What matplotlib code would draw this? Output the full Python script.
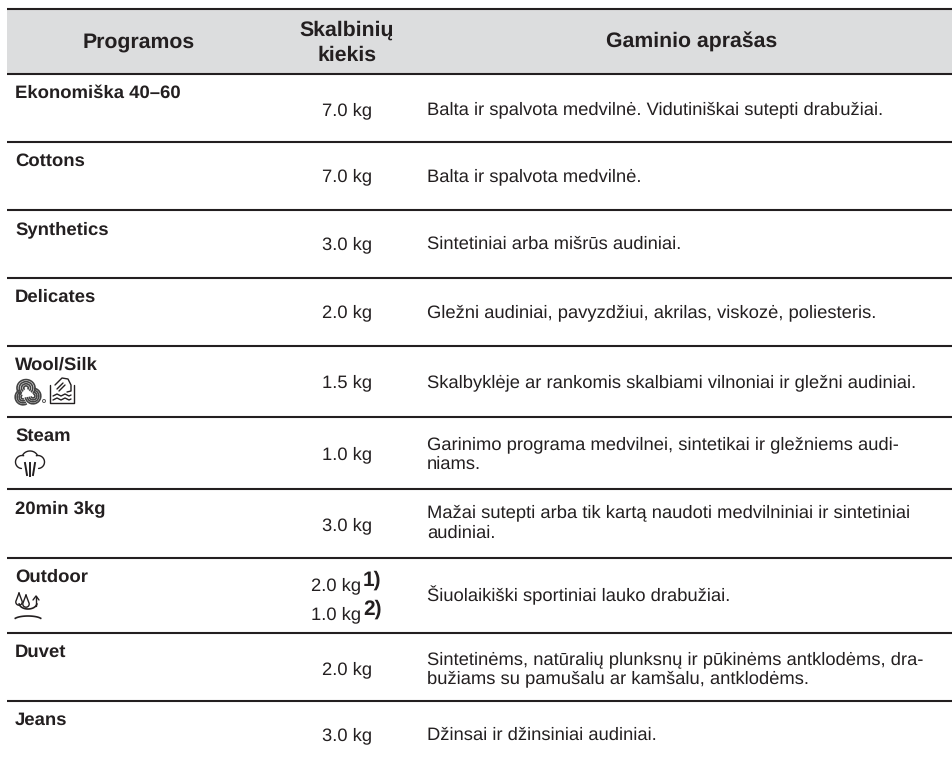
import numpy as np
import matplotlib
matplotlib.use("Agg")
import matplotlib.pyplot as plt
from matplotlib.patches import Arc, Circle, Rectangle

plt.rcParams['font.family'] = ['Liberation Sans', 'DejaVu Sans']
plt.rcParams['text.hinting'] = 'no_hinting'
plt.rcParams['text.hinting_factor'] = 8

headers = ["Programos", "Skalbinių", "kiekis", "Gaminio aprašas"]
programs = ["Ekonomiška 40–60", "Cottons", "Synthetics", "Delicates", "Wool/Silk",
            "Steam", "20min 3kg", "Outdoor", "Duvet", "Jeans"]
loads = ["7.0 kg", "7.0 kg", "3.0 kg", "2.0 kg", "1.5 kg", "1.0 kg", "3.0 kg",
         None, "2.0 kg", "3.0 kg"]
outdoor_loads = ["2.0 kg", "1.0 kg"]
outdoor_marks = ["1)", "2)"]
descriptions = [
    ["Balta ir spalvota medvilnė. Vidutiniškai sutepti drabužiai."],
    ["Balta ir spalvota medvilnė."],
    ["Sintetiniai arba mišrūs audiniai."],
    ["Gležni audiniai, pavyzdžiui, akrilas, viskozė, poliesteris."],
    ["Skalbyklėje ar rankomis skalbiami vilnoniai ir gležni audiniai."],
    ["Garinimo programa medvilnei, sintetikai ir gležniems audi-", "niams."],
    ["Mažai sutepti arba tik kartą naudoti medvilniniai ir sintetiniai", "audiniai."],
    ["Šiuolaikiški sportiniai lauko drabužiai."],
    ["Sintetinėms, natūralių plunksnų ir pūkinėms antklodėms, dra-",
     "bužiams su pamušalu ar kamšalu, antklodėms."],
    ["Džinsai ir džinsiniai audiniai."],
]

INK = "#231f20"
HEAD = "#dcddde"
W, H = 953, 765
L, R = 7, 953
TOP = 9
row_lines = [74, 142, 210, 278, 346, 417, 489, 558, 633, 701]
load_base = [115, 181, 249, 317, 387, 459, 530, 0, 674, 740]
desc_base = [114, 181, 249, 317, 387, 449, 517, 601, 664, 740]
line_gap = [0, 0, 0, 0, 0, 20, 20.5, 0, 19, 0]
FS = 13.2
FB = 13.3
FH = 15.3

fig = plt.figure(figsize=(W / 100, H / 100), dpi=100)
ax = fig.add_axes([0, 0, 1, 1])
ax.set_xlim(0, W)
ax.set_ylim(H, 0)
ax.axis("off")

ax.add_patch(Rectangle((L, TOP), R - L, row_lines[0] - TOP, fc=HEAD, ec="none"))
for y in [TOP] + row_lines:
    ax.plot([L, R], [y, y], color=INK, lw=1.5, solid_capstyle="butt")

hb = dict(ha="center", va="baseline", fontsize=FH, fontweight="bold", color=INK)
ax.text(139, 47.5, headers[0], **hb)
ax.text(347, 36, headers[1], **hb)
ax.text(347, 60.5, headers[2], **hb)
ax.text(691.5, 47.5, headers[3], **hb)

for i, name in enumerate(programs):
    ax.text(15, row_lines[i] + 24, name, ha="left", va="baseline", fontsize=FB,
            fontweight="bold", color=INK)
    if loads[i]:
        ax.text(347, load_base[i], loads[i], ha="center", va="baseline", fontsize=FS, color=INK)
    for k, line in enumerate(descriptions[i]):
        ax.text(427, desc_base[i] + k * line_gap[i], line, ha="left", va="baseline",
                fontsize=FS, color=INK)

# Outdoor loads with bold markers
for txt, mark, y in zip(outdoor_loads, outdoor_marks, [590, 619]):
    ax.text(361.5, y, txt, ha="right", va="baseline", fontsize=FS, color=INK)
    ax.text(363, y - 4, mark, ha="left", va="baseline", fontsize=15, fontweight="bold", color=INK)

# icons ---------------------------------------------------------------
ik = dict(color=INK, lw=1.0, solid_capstyle="round")
# wool mark
for r in (3, 6, 9, 12):
    ax.add_patch(Arc((26, 388), r * 1.5, r * 1.4, theta1=130, theta2=400, color="#444444", lw=1.2))
    ax.add_patch(Arc((33, 396), r * 1.3, r * 1.3, theta1=-80, theta2=170, color="#444444", lw=1.2))
    ax.add_patch(Arc((23, 397), r * 1.3, r * 1.3, theta1=60, theta2=250, color="#444444", lw=1.2))
ax.add_patch(Circle((44, 401), 1.5, fc="none", ec="#555555", lw=0.7))
# hand-wash tub
ax.plot([50, 50, 74, 74], [385, 403, 403, 385], **ik)
ax.plot([55, 62, 68, 71, 71, 67], [385, 378, 379, 385, 391, 392], **ik)
ax.plot([57, 63], [389, 383], **ik)
ax.plot([59, 65], [391, 385], **ik)
ax.plot([53, 57, 61, 65, 69, 71], [396, 394, 396, 394, 396, 395], **ik)
ax.plot([53, 57, 61, 65, 69, 71], [400, 398, 400, 398, 400, 399], **ik)
# steam
t = np.linspace(25, 155, 40)
ax.plot(30 + 8 * np.cos(np.radians(t)), 458 - 7 * np.sin(np.radians(t)), **ik)
t = np.linspace(75, 265, 30)
ax.plot(22 + 6.5 * np.cos(np.radians(t)), 462 - 6.5 * np.sin(np.radians(t)), **ik)
t = np.linspace(105, -85, 30)
ax.plot(38 + 6.5 * np.cos(np.radians(t)), 462 - 6.5 * np.sin(np.radians(t)), **ik)
ax.plot([25, 27], [463, 475], color=INK, lw=1.4)
ax.plot([30, 30], [463, 476], color=INK, lw=1.4)
ax.plot([35, 33], [463, 475], color=INK, lw=1.4)
# outdoor
for dx, dy in [(19, 598), (26, 600)]:
    t = np.linspace(-30, 210, 30)
    xs = dx + 3.2 * np.cos(np.radians(t))
    ys = dy + 4 - 3.2 * np.sin(-np.radians(t))
    ax.plot(np.r_[dx, xs, dx], np.r_[dy - 5, ys, dy - 5], **ik)
t = np.linspace(190, 350, 30)
ax.plot(28 + 9 * np.cos(np.radians(t)), 603 - 6 * np.sin(np.radians(t)), color=INK, lw=1.2)
ax.plot([33, 36, 39], [600, 596, 600], **ik)
ax.plot([36, 36], [596, 606], **ik)
t = np.linspace(25, 155, 30)
ax.plot(28 + 14 * np.cos(np.radians(t)), 620 - 4 * np.sin(np.radians(t)), color=INK, lw=1.2)

fig.savefig("out.png", dpi=100, facecolor="white")
